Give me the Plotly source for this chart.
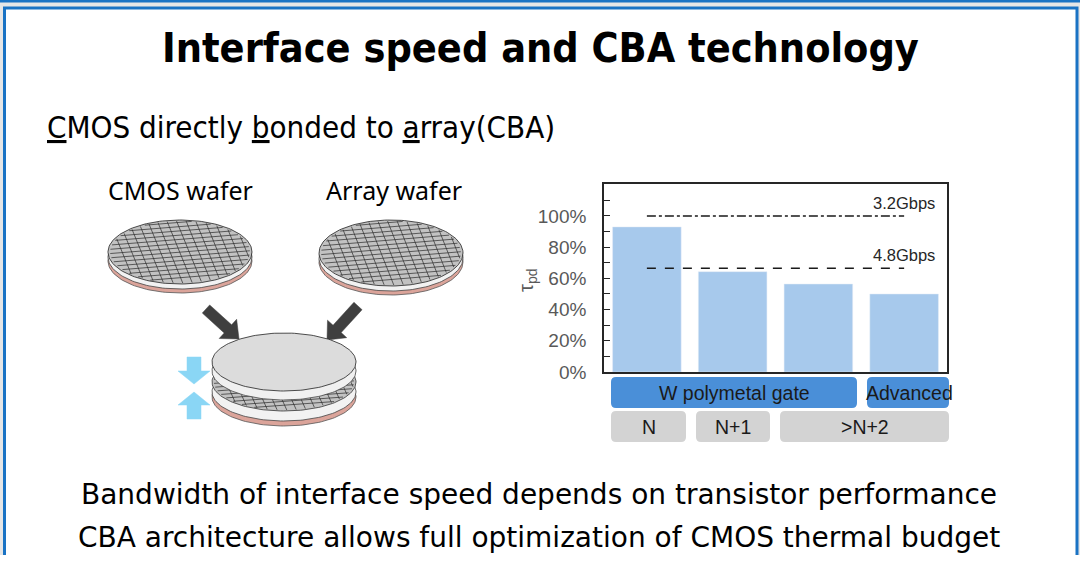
import numpy as np
import plotly.graph_objects as go

# chart data
categories = ["N", "N+1", ">N+2 (W)", ">N+2 (Adv)"]
tau_pd = [93, 64.3, 56.4, 50]          # percent
ref_labels = ["3.2Gbps", "4.8Gbps"]
ref_levels = [100, 66.5]
ref_dash = ["dashdot", "dash"]
gate_labels = ["W polymetal gate", "Advanced"]
node_labels = ["N", "N+1", ">N+2"]
ytick_vals = [0, 20, 40, 60, 80, 100]
ytick_text = ["0%", "20%", "40%", "60%", "80%", "100%"]

W, H = 1080, 566
HR = 555          # height the page actually shows the figure at
BLUE = "#1a73c4"

fig = go.Figure()


# ---- illustration helpers (pixel coords on x/y overlay) ----
def ellipse(cx, cy, rx, ry, n=160):
    t = np.linspace(0, 2 * np.pi, n)
    return cx + rx * np.cos(t), cy + ry * np.sin(t)


def poly(xs, ys, fill, line="#333", lw=0.8):
    fig.add_trace(go.Scatter(x=list(xs), y=list(ys), fill="toself", fillcolor=fill,
                             mode="lines", line=dict(color=line, width=lw),
                             hoverinfo="skip", showlegend=False, xaxis="x", yaxis="y"))


def grid(cx, cy, rx, ry, theta=-0.18, step=0.135):
    xs, ys = [], []
    for ang in (theta, theta + np.pi / 2):
        d = np.array([np.cos(ang), np.sin(ang)])
        nrm = np.array([-d[1], d[0]])
        for c in np.arange(-0.94, 0.95, step):
            h = np.sqrt(1 - c * c)
            p0 = c * nrm - h * d
            p1 = c * nrm + h * d
            xs += [cx + rx * p0[0], cx + rx * p1[0], None]
            ys += [cy + ry * p0[1], cy + ry * p1[1], None]
    fig.add_trace(go.Scatter(x=xs, y=ys, mode="lines", line=dict(color="#2a2a2a", width=0.7),
                             hoverinfo="skip", showlegend=False, xaxis="x", yaxis="y"))


def wafer(cx, cy, rx, ry):
    poly(*ellipse(cx, cy + 9, rx, ry), "#dba49a", "#555")
    poly(*ellipse(cx, cy + 5, rx, ry), "#f2f2f2", "#444")
    poly(*ellipse(cx, cy, rx, ry), "#c2c2c2", "#222")
    grid(cx, cy, rx * 0.97, ry * 0.97)


def arrow(x0, y0, x1, y1, shaft, head, hlen, fill):
    d = np.array([x1 - x0, y1 - y0], float)
    L = np.hypot(*d)
    d /= L
    n = np.array([-d[1], d[0]])
    p0 = np.array([x0, y0], float)
    b = p0 + d * (L - hlen)
    pts = [p0 + n * shaft / 2, b + n * shaft / 2, b + n * head / 2, np.array([x1, y1], float),
           b - n * head / 2, b - n * shaft / 2, p0 - n * shaft / 2, p0 + n * shaft / 2]
    poly([p[0] for p in pts], [p[1] for p in pts], fill, fill, 0.5)


wafer(180, 252, 72, 32)
wafer(391, 253, 72, 33)
arrow(206, 309, 239, 339, 11, 26, 15, "#3f3f3f")
arrow(358, 306, 327, 340, 11, 26, 15, "#3f3f3f")

# bonded pair
poly(*ellipse(284, 397, 72, 29), "#dba49a", "#555")
poly(*ellipse(284, 392, 72, 29), "#f2f2f2", "#444")
poly(*ellipse(284, 382, 72, 29), "#c2c2c2", "#333")
grid(284, 382, 70, 28)
poly(*ellipse(284, 371, 72, 29), "#f0f0f0", "#444")
poly(*ellipse(284, 362, 72, 29), "#dcdcdc", "#222")
arrow(194, 357, 194, 384, 14, 32, 13, "#8ad6f5")
arrow(194, 419, 194, 392, 14, 32, 13, "#8ad6f5")

# ---- bar chart (second axis pair, drawn on top) ----
fig.add_trace(go.Bar(x=categories, y=tau_pd, marker_color="#a7c9ec",
                     width=0.8, showlegend=False, xaxis="x2", yaxis="y2"))
for lvl, dash in zip(ref_levels, ref_dash):
    fig.add_trace(go.Scatter(x=[categories[0], categories[-1]], y=[lvl, lvl],
                             mode="lines", line=dict(color="#1a1a1a", width=1.6, dash=dash),
                             showlegend=False, xaxis="x2", yaxis="y2"))


# ---- shapes: slide frame and label boxes ----
def rrect(x0, y0, x1, y1, r, fill):
    p = (f"M{x0 + r},{y0} L{x1 - r},{y0} Q{x1},{y0} {x1},{y0 + r} L{x1},{y1 - r} "
         f"Q{x1},{y1} {x1 - r},{y1} L{x0 + r},{y1} Q{x0},{y1} {x0},{y1 - r} "
         f"L{x0},{y0 + r} Q{x0},{y0} {x0 + r},{y0} Z")
    return dict(type="path", path=p, xref="x", yref="y", fillcolor=fill,
                line=dict(width=0), layer="below")


shapes = [
    dict(type="rect", xref="x", yref="y", x0=0, x1=W, y0=0, y1=H, fillcolor="#e6e6e6",
         line=dict(width=0), layer="below"),
    dict(type="rect", xref="x", yref="y", x0=0, x1=W, y0=0, y1=2.5, fillcolor=BLUE,
         line=dict(width=0), layer="below"),
    dict(type="rect", xref="x", yref="y", x0=4.5, x1=1077, y0=8, y1=H + 20, fillcolor="white",
         line=dict(color=BLUE, width=3), layer="below"),
]
gate_boxes = [(611, 857), (867, 949)]
node_boxes = [(611, 686), (696, 770), (780, 949)]
for x0, x1 in gate_boxes:
    shapes.append(rrect(x0, 377, x1, 408, 5, "#4a8fd8"))
for x0, x1 in node_boxes:
    shapes.append(rrect(x0, 411, x1, 442, 5, "#d3d3d3"))

ann = []
for (x0, x1), t in zip(gate_boxes, gate_labels):
    ann.append(dict(x=(x0 + x1) / 2 + (1 if t == "Advanced" else 0), y=393, text=t))
for (x0, x1), t in zip(node_boxes, node_labels):
    ann.append(dict(x=(x0 + x1) / 2, y=427, text=t))
annotations = [dict(a, xref="x", yref="y", showarrow=False,
                    font=dict(family="Liberation Sans", size=19.5, color="#1a1a1a")) for a in ann]

# ref line labels on the bar axis
for lab, lvl in zip(ref_labels, ref_levels):
    annotations.append(dict(x=categories[-1], y=lvl + 1.2, xref="x2", yref="y2", text=lab,
                            showarrow=False, yanchor="bottom",
                            font=dict(family="Liberation Sans", size=16.5, color="#262626")))

annotations += [
    dict(x=527, y=281, xref="x", yref="y", text="τ<sub>pd</sub>", textangle=-90, showarrow=False,
         font=dict(family="Liberation Sans", size=20, color="#595959")),
    dict(x=540, y=48, xref="x", yref="y", text="<b>Interface speed and CBA technology</b>",
         showarrow=False, font=dict(family="DejaVu Sans Condensed", size=41, color="black")),
    dict(x=45, y=127, xref="x", yref="y", xanchor="left",
         text="<u>C</u>MOS directly <u>b</u>onded to <u>a</u>rray(CBA)",
         showarrow=False, font=dict(family="DejaVu Sans Condensed", size=31, color="black")),
    dict(x=180, y=190, xref="x", yref="y", text="CMOS wafer", showarrow=False,
         font=dict(family="Noto Sans", size=25, color="black")),
    dict(x=394, y=190, xref="x", yref="y", text="Array wafer", showarrow=False,
         font=dict(family="Noto Sans", size=25, color="black")),
    dict(x=539, y=494, xref="x", yref="y",
         text="Bandwidth of interface speed depends on transistor performance",
         showarrow=False, font=dict(family="DejaVu Sans", size=28, color="black")),
    dict(x=539, y=537, xref="x", yref="y",
         text="CBA architecture allows full optimization of CMOS thermal budget",
         showarrow=False, font=dict(family="DejaVu Sans", size=28, color="black")),
]

fig.update_layout(
    width=W, height=H, autosize=False, margin=dict(l=0, r=0, t=0, b=0),
    paper_bgcolor="white", plot_bgcolor="rgba(0,0,0,0)",
    shapes=shapes, annotations=annotations, bargap=0.2,
    xaxis=dict(domain=[0, 1], range=[0, W], visible=False, fixedrange=True),
    yaxis=dict(domain=[0, 1], range=[HR, 0], visible=False, fixedrange=True),
    xaxis2=dict(domain=[604 / W, 947 / W], range=[-0.5, 3.5], showticklabels=False, ticks="",
                showline=True, mirror=True, linecolor="#262626", linewidth=1.6, showgrid=False,
                zeroline=False, anchor="y2"),
    yaxis2=dict(domain=[1 - 372 / HR, 1 - 184 / HR], range=[0, 120.5], tickvals=ytick_vals,
                ticktext=ytick_text, ticks="inside", ticklen=6, tickcolor="#262626",
                showline=True, mirror=True, linecolor="#262626", linewidth=1.6, showgrid=False,
                zeroline=False, ticklabelstandoff=12, anchor="x2",
                minor=dict(dtick=10, ticks="inside", ticklen=6, tickcolor="#262626"),
                tickfont=dict(family="Liberation Sans", size=19, color="#595959")),
)

fig.write_html(
    "out.html",
    config={"displayModeBar": False, "responsive": False},
    post_script="document.body.style.margin='0';document.body.style.overflow='hidden';",
)
